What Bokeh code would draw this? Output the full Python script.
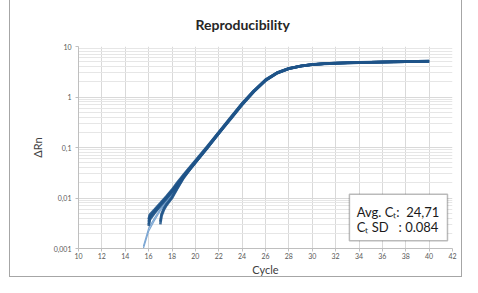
from bokeh.plotting import figure
from bokeh.models import FixedTicker, Title, BoxAnnotation, Label
from bokeh.embed import file_html
from bokeh.resources import INLINE

x_ticks = [10, 12, 14, 16, 18, 20, 22, 24, 26, 28, 30, 32, 34, 36, 38, 40, 42]
y_ticks = [0.001, 0.01, 0.1, 1, 10]
y_tick_labels = ["0,001", "0,01", "0,1", "1", "10"]
y_minor = [0.002, 0.003, 0.004, 0.005, 0.006, 0.007, 0.008, 0.009,
           0.02, 0.03, 0.04, 0.05, 0.06, 0.07, 0.08, 0.09,
           0.2, 0.3, 0.4, 0.5, 0.6, 0.7, 0.8, 0.9,
           2, 3, 4, 5, 6, 7, 8, 9]

cyc_a = [16.0, 16.1, 16.5, 17, 17.5, 18, 18.5, 19, 19.5, 20, 21, 22, 23, 24, 25, 26, 27, 28,
         29, 30, 31, 32, 33, 34, 35, 36, 37, 38, 39, 40]
rep_a1 = [0.0030, 0.0040, 0.0052, 0.0072, 0.0098, 0.0135, 0.019, 0.027, 0.037, 0.051, 0.098, 0.19,
          0.37, 0.71, 1.28, 2.12, 2.98, 3.64, 4.08, 4.38, 4.55, 4.66, 4.74, 4.80, 4.86, 4.91, 4.96,
          5.01, 5.06, 5.10]
rep_a2 = [0.0034, 0.0044, 0.0056, 0.0076, 0.0103, 0.0141, 0.020, 0.028, 0.039, 0.053, 0.101, 0.20,
          0.38, 0.73, 1.31, 2.16, 3.02, 3.67, 4.10, 4.40, 4.57, 4.68, 4.76, 4.82, 4.88, 4.93, 4.98,
          5.03, 5.08, 5.12]
rep_a3 = [0.0038, 0.0047, 0.0059, 0.0079, 0.0107, 0.0146, 0.021, 0.029, 0.040, 0.055, 0.104, 0.20,
          0.39, 0.75, 1.34, 2.20, 3.05, 3.70, 4.12, 4.42, 4.59, 4.70, 4.78, 4.84, 4.90, 4.95, 5.00,
          5.05, 5.10, 5.15]
rep_a4 = [0.0028, 0.0037, 0.0050, 0.0069, 0.0095, 0.0131, 0.018, 0.026, 0.036, 0.050, 0.096, 0.19,
          0.36, 0.70, 1.26, 2.10, 2.95, 3.62, 4.06, 4.36, 4.53, 4.64, 4.72, 4.79, 4.85, 4.90, 4.95,
          5.00, 5.04, 5.08]

cyc_b = [17.0, 17.1, 17.3, 17.5, 18, 18.5, 19, 19.5, 20, 21, 22, 23, 24, 25, 26, 27, 28, 29, 30,
         31, 32, 33, 34, 35, 36, 37, 38, 39, 40]
rep_b1 = [0.0030, 0.0044, 0.0058, 0.0070, 0.0100, 0.0160, 0.025, 0.036, 0.050, 0.097, 0.19, 0.37,
          0.72, 1.29, 2.14, 3.00, 3.65, 4.09, 4.39, 4.56, 4.67, 4.75, 4.81, 4.87, 4.92, 4.97, 5.02,
          5.07, 5.11]
rep_b2 = [0.0034, 0.0048, 0.0062, 0.0074, 0.0105, 0.0165, 0.026, 0.037, 0.052, 0.100, 0.195, 0.38,
          0.74, 1.32, 2.18, 3.03, 3.68, 4.11, 4.41, 4.58, 4.69, 4.77, 4.83, 4.89, 4.94, 4.99, 5.04,
          5.09, 5.13]

cyc_c = [15.55, 16, 16.5, 17, 17.5, 18, 18.5, 19, 19.5, 20, 21, 22, 23, 24, 25, 26, 27, 28, 29, 30,
         31, 32, 33, 34, 35, 36, 37, 38, 39, 40]
rep_c1 = [0.0010, 0.0022, 0.0036, 0.0056, 0.0082, 0.0118, 0.017, 0.025, 0.036, 0.050, 0.097, 0.19,
          0.37, 0.71, 1.28, 2.12, 2.98, 3.64, 4.08, 4.38, 4.55, 4.66, 4.74, 4.80, 4.86, 4.91, 4.96,
          5.01, 5.06, 5.10]
rep_c2 = [0.0011, 0.0025, 0.0040, 0.0060, 0.0086, 0.0122, 0.0175, 0.026, 0.037, 0.051, 0.099, 0.195,
          0.375, 0.72, 1.30, 2.14, 3.00, 3.66, 4.09, 4.39, 4.56, 4.67, 4.75, 4.81, 4.87, 4.92, 4.97,
          5.02, 5.07, 5.11]

NB = "\u00a0"
title_text = "Reproducibility"
stats_lines = ["Avg. C\u209c:" + NB * 2 + "24,71", "C\u209c SD" + NB * 3 + ":" + NB + "0.084"]

FONT = "Lato"

p = figure(width=453, height=281, x_range=(10, 42), y_range=(0.001, 10), y_axis_type="log",
           output_backend="svg", toolbar_location=None,
           min_border_left=68, min_border_right=11, min_border_top=49, min_border_bottom=26)
p.styles = {"margin-left": "9px", "margin-top": "-4px", "border": "1px solid #a6a6a6",
            "box-sizing": "border-box"}
p.outline_line_color = None
p.background_fill_color = "white"
p.border_fill_color = "white"

p.title = Title(text=title_text, align="left", offset=117, standoff=28, text_font=FONT,
                text_font_size="14px", text_font_style="bold", text_color="#262626")

# axes
p.xaxis.ticker = FixedTicker(ticks=x_ticks)
p.yaxis.ticker = FixedTicker(ticks=y_ticks, minor_ticks=y_minor)
p.yaxis.major_label_overrides = {t: l for t, l in zip(y_ticks, y_tick_labels)}
for ax in (p.xaxis[0], p.yaxis[0]):
    ax.axis_line_color = "#bfbfbf"
    ax.major_tick_line_color = "#bfbfbf"
    ax.major_tick_out = 3
    ax.major_tick_in = 0
    ax.minor_tick_out = 0
    ax.minor_tick_in = 0
    ax.major_label_text_font = FONT
    ax.major_label_text_font_size = "7px"
    ax.major_label_text_color = "#595959"
    ax.axis_label_text_font = FONT
    ax.axis_label_text_font_style = "normal"
    ax.axis_label_text_color = "#404040"
p.xaxis.axis_label = "Cycle"
p.xaxis.axis_label_text_font_size = "11px"
p.xaxis.axis_label_standoff = 1
p.xaxis.major_label_standoff = 1
p.yaxis.axis_label = "\u0394Rn"
p.yaxis.axis_label_text_font_size = "11px"
p.yaxis.axis_label_standoff = 7
p.yaxis.major_label_standoff = 4

p.xgrid.grid_line_color = "#d9d9d9"
p.ygrid.grid_line_color = "#d9d9d9"
p.ygrid.minor_grid_line_color = "#e6e6e6"

# thin early replicates
for cyc, rep in ((cyc_c, rep_c1), (cyc_c, rep_c2)):
    p.line(cyc, rep, line_color="#7da7d3", line_width=1.2)

main = "#1f5488"
for cyc, rep in ((cyc_a, rep_a1), (cyc_a, rep_a2), (cyc_a, rep_a3), (cyc_a, rep_a4),
                 (cyc_b, rep_b1), (cyc_b, rep_b2)):
    p.line(cyc, rep, line_color=main, line_width=2.6, line_alpha=0.85)

# stats box
box = BoxAnnotation(left=33.18, right=41.57, bottom=0.00142, top=0.0118,
                    fill_color="white", fill_alpha=1.0, line_color="#1a1a1a", line_width=1.5,
                    level="overlay")
p.add_layout(box)
for txt, yv in zip(stats_lines, [0.0053, 0.0027]):
    p.add_layout(Label(x=33.8, y=yv, text=txt, text_font=FONT, text_font_size="13px",
                       text_color="#1a1a1a", text_baseline="middle", text_align="left",
                       level="overlay"))

open("out.html", "w").write(file_html(p, INLINE))
